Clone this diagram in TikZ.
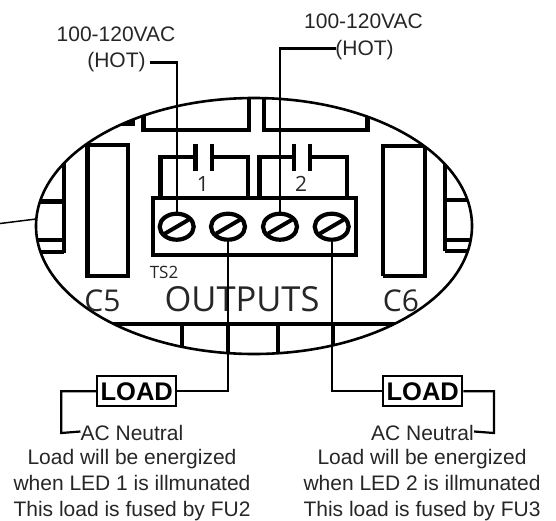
\documentclass[tikz,border=0pt]{standalone}
\usepackage{fontspec}
\setmainfont{Liberation Sans}
\newfontfamily\boardfont{Open Sans}
\usetikzlibrary{positioning,calc,shapes.geometric}

\tikzset{
	label/.style={inner sep=0pt,anchor=base,font=\fontsize{21}{25.6}\selectfont,text=black!85},
	note/.style={label,align=center},
	boardtext/.style={inner sep=0pt,anchor=base,text=black!85},
	board/.style={line width=4.2pt,line join=miter},
	wire/.style={line width=2.2pt},
	screw/.style={draw,ellipse,line width=4.2pt,minimum width=34pt,minimum height=26pt,inner sep=0pt},
	loadbox/.style={draw,line width=2.2pt,minimum width=79pt,minimum height=30pt,inner sep=0pt,font=\fontsize{25.5}{28}\selectfont\bfseries}
}

\begin{document}
\begin{tikzpicture}[x=1pt,y=-1pt]
	\useasboundingbox (0,0) rectangle (556,520);

	% nhan phia tren
	\node[label] (voltA) at (116,41) {100-120VAC};
	\node[label] (hotA) at (116.5,67) {(HOT)};
	\node[label] (voltB) at (363.5,28) {100-120VAC};
	\node[label] (hotB) at (364.5,55) {(HOT)};

	% chi tiet ben trong hinh elip
	\begin{scope}
		\clip (254,226) ellipse [x radius=218, y radius=128];
		% cac khoi phia tren
		\draw[board] (143.5,100) -- (143.5,130) -- (249,130) -- (249,90);
		\draw[board] (264,90) -- (264,130) -- (367.5,130) -- (367.5,100);
		\draw[board] (112,124) -- (133,124) -- (133,110);
		% C5 va C6
		\draw[board] (87.5,130) -- (87.5,276) -- (128,276) -- (128,145) -- (87.5,145);
		\draw[board] (383,276) -- (425,276) -- (425,130);
		\draw[board] (425,146) -- (383,146) -- (383,276);
		% hai ben
		\draw[board] (64,150) -- (64,253);
		\draw[board] (445,160) -- (445,251);
		\foreach \y in {201.5,240,252} { \draw[board] (30,\y) -- (64,\y); }
		\foreach \y in {200,240,251} { \draw[board] (445,\y) -- (480,\y); }
		% phia duoi
		\draw[board] (100,324) -- (410,324);
		\foreach \x in {182,228,278,333} { \draw[board] (\x,324) -- (\x,360); }
	\end{scope}
	\draw[line width=2.6pt] (254,226) ellipse [x radius=218, y radius=128];

	% tiep diem 1 va 2
	\foreach \a/\b/\c/\d in {160.5/195.5/212/248,259.5/294/310/347} {
		\draw[board] (\a,198) -- (\a,157) -- (\b,157);
		\draw[board] (\c,157) -- (\d,157) -- (\d,198);
		\draw[board] (\b,144) -- (\b,171);
		\draw[board] (\c,144) -- (\c,171);
	}
	\node[boardtext,font=\fontsize{21}{23}\selectfont\boardfont] (numA) at (203,191) {1};
	\node[boardtext,font=\fontsize{21}{23}\selectfont\boardfont] (numB) at (301,191) {2};

	% khoi dau day
	\draw[board] (153,198) rectangle (356,255);
	\node[screw] (screwA) at (176.7,226.7) {};
	\node[screw] (screwB) at (228,226.7) {};
	\node[screw] (screwC) at (280,226.7) {};
	\node[screw] (screwD) at (331.7,226.7) {};
	\foreach \s in {A,B,C,D} {
		\draw[line width=4pt] ([xshift=-12pt,yshift=-7pt]screw\s.center) -- ([xshift=12pt,yshift=7pt]screw\s.center);
	}

	% chu tren bo mach
	\node[boardtext,font=\fontsize{17}{19}\selectfont\boardfont] (tsLabel) at (164,278) {TS2};
	\node[boardtext,font=\fontsize{34.5}{38}\selectfont\boardfont] (outLabel) at (242,311) {OUTPUTS};
	\node[boardtext,font=\fontsize{30}{34}\selectfont\boardfont] (capA) at (102.5,311) {C5};
	\node[boardtext,font=\fontsize{30}{34}\selectfont\boardfont] (capB) at (401,311) {C6};

	% tai
	\node[loadbox] (loadA) at (136.7,391.3) {LOAD};
	\node[loadbox] (loadB) at (422.7,391.3) {LOAD};

	% chu phia duoi
	\node[label] (neutralA) at (132,440) {AC Neutral};
	\node[label] (neutralB) at (422.5,440) {AC Neutral};
	\node[note,anchor=north] (noteA) at (132,449.5) {Load will be energized\\when LED 1 is illmunated\\This load is fused by FU2};
	\node[note,anchor=north] (noteB) at (422,449.5) {Load will be energized\\when LED 2 is illmunated\\This load is fused by FU3};

	% day noi
	\draw[wire] ([xshift=4pt,yshift=-1pt]hotA.east) -| (screwA.north);
	\draw[wire] ([xshift=1pt,yshift=1pt]hotB.west) -| (screwC.north);
	\draw[wire] (screwB.south) |- (loadA.east);
	\draw[wire] (screwD.south) |- (loadB.west);
	\draw[wire] (loadA.west) -| (61.3,433) -- ([yshift=1pt]neutralA.west);
	\draw[wire] (loadB.east) -| (494,433) -- ([yshift=1pt]neutralB.east);

	% duong dan ben trai
	\coordinate (leadEnd) at (0,223.5);
	\coordinate (leadStart) at (36,219);
	\draw[line width=1.5pt] (leadEnd) -- (leadStart);
\end{tikzpicture}
\end{document}
